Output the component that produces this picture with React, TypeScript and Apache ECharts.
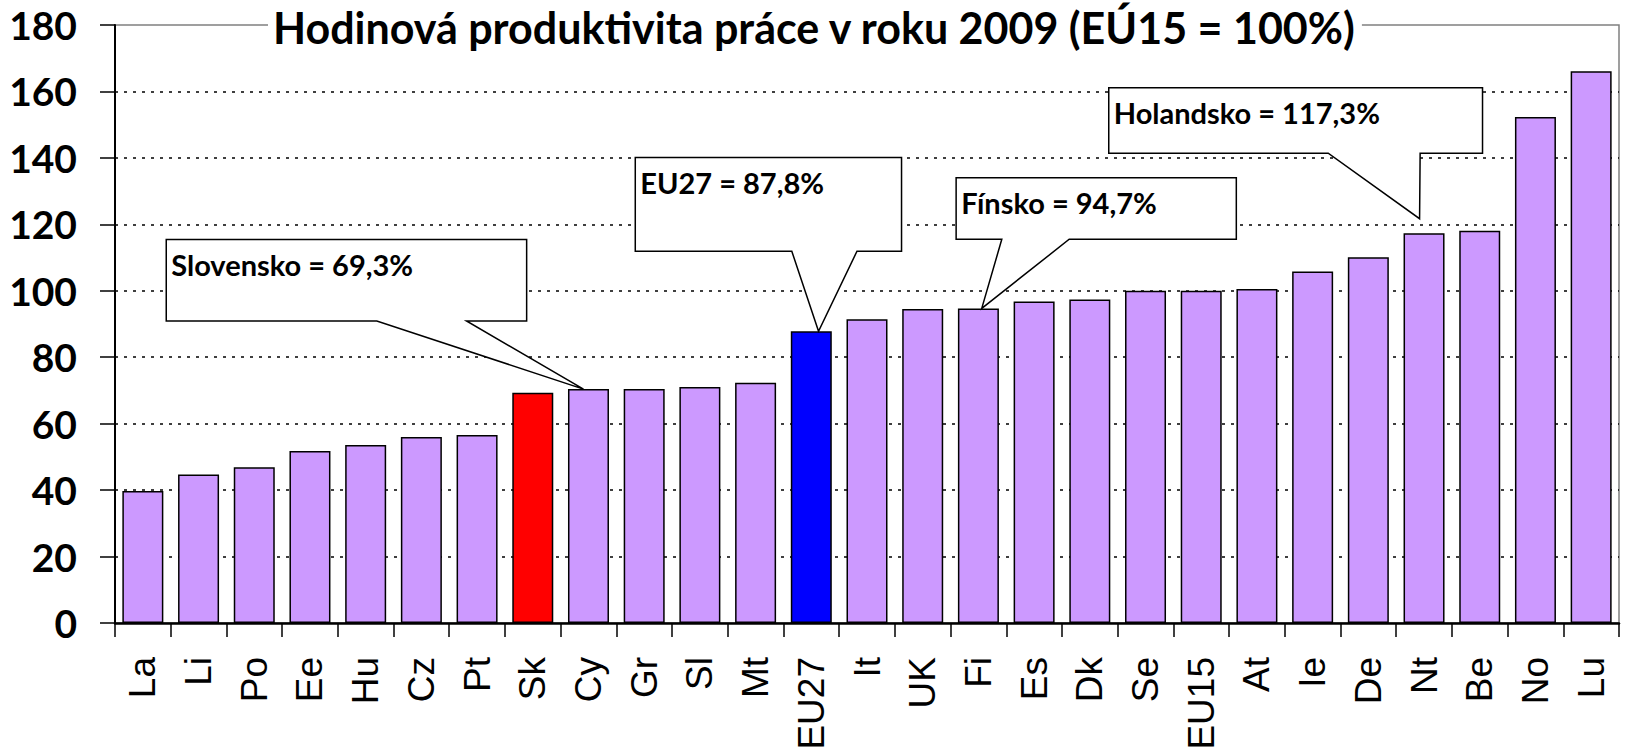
import React, { useEffect, useRef } from "react";
import * as echarts from "echarts";

// ---- data ----
const chartTitle = "Hodinová produktivita práce v roku 2009 (EÚ15 = 100%)";
const categories = [
  "La", "Li", "Po", "Ee", "Hu", "Cz", "Pt", "Sk", "Cy", "Gr", "Sl", "Mt", "EU27",
  "It", "UK", "Fi", "Es", "Dk", "Se", "EU15", "At", "Ie", "De", "Nt", "Be", "No", "Lu",
];
const values = [
  39.7, 44.7, 46.9, 51.8, 53.6, 56.0, 56.6, 69.3, 70.4, 70.4, 71.0, 72.3, 87.8,
  91.4, 94.5, 94.7, 96.8, 97.4, 100.0, 100.0, 100.5, 105.8, 110.1, 117.3, 118.1, 152.3, 166.1,
];
const highlightCats = ["Sk", "EU27"];
const yTicks = { min: 0, max: 180, interval: 20 };
const calloutTexts = ["Slovensko = 69,3%", "EU27 = 87,8%", "Fínsko = 94,7%", "Holandsko = 117,3%"];
const calloutTargets = ["Cy", "EU27", "Fi", "Nt"];

// ---- layout of callouts (category units / value units) ----
const calloutLayout = [
  { box: [0.42, 6.89, 115.4, 90.9], base: [4.2, 5.81], tipDx: -0.09, tipDy: 0 },
  { box: [8.84, 13.62, 140.1, 111.9], base: [11.65, 12.82], tipDx: 0.13, tipDy: 0 },
  { box: [14.6, 19.63, 134.0, 115.5], base: [15.42, 16.63], tipDx: 0.06, tipDy: 0 },
  { box: [17.34, 24.05, 161.1, 141.4], base: [21.28, 22.93], tipDx: -0.08, tipDy: 4.4 },
];

const BAR = "#CC99FF";
const highlightColors: Record<string, string> = { Sk: "#FF0000", EU27: "#0000FF" };

export default function App() {
  const ref = useRef<HTMLDivElement>(null);
  useEffect(() => {
    if (!ref.current) return;
    const chart = echarts.init(ref.current, null, { renderer: "svg" });
    const option: any = {
      animation: false,
      backgroundColor: "#fff",
      title: {
        text: chartTitle,
        left: 268,
        top: 5,
        padding: [0, 5],
        backgroundColor: "#fff",
        textStyle: {
          fontFamily: "Lato",
          fontWeight: "bold",
          fontSize: 43,
          lineHeight: 44,
          color: "#000",
        },
        z: 10,
      },
      grid: {
        left: 115,
        right: 9,
        top: 25,
        bottom: 131,
        show: true,
        borderColor: "#808080",
        borderWidth: 1.5,
        backgroundColor: "transparent",
      },
      xAxis: {
        type: "category",
        data: categories,
        axisLine: { lineStyle: { color: "#000", width: 2.5 } },
        axisTick: { show: true, length: 14, lineStyle: { color: "#000", width: 1.5 } },
        axisLabel: {
          rotate: 90,
          margin: 34,
          fontFamily: "Liberation Sans",
          fontSize: 37,
          color: "#000",
          interval: 0,
        },
        splitLine: { show: false },
      },
      yAxis: {
        type: "value",
        min: yTicks.min,
        max: yTicks.max,
        interval: yTicks.interval,
        axisLine: { show: true, lineStyle: { color: "#000", width: 2 } },
        axisTick: { show: true, length: 15, lineStyle: { color: "#000", width: 1.5 } },
        axisLabel: {
          margin: 38,
          fontFamily: "Lato",
          fontWeight: "bold",
          fontSize: 39,
          color: "#000",
        },
        splitLine: {
          show: true,
          showMinLine: false,
          showMaxLine: false,
          lineStyle: { color: "#000", width: 1.5, type: [3, 6] },
        },
      },
      series: [
        {
          type: "bar",
          barWidth: 41,
          data: categories.map((c, i) => ({
            value: values[i],
            itemStyle: {
              color: highlightCats.includes(c) ? highlightColors[c] : BAR,
            },
          })),
          itemStyle: { borderColor: "#000", borderWidth: 1.5 },
        },
      ],
    };
    chart.setOption(option);

    const px = (ci: number, v: number): [number, number] => {
      const a = chart.convertToPixel({ gridIndex: 0 }, [0, v]) as number[];
      const b = chart.convertToPixel({ gridIndex: 0 }, [1, v]) as number[];
      const band = b[0] - a[0];
      return [a[0] + ci * band, a[1]];
    };

    const graphics: any[] = [];
    calloutLayout.forEach((L, k) => {
      const idx = categories.indexOf(calloutTargets[k]);
      const [x0, x1, yTop, yBot] = L.box;
      const tl = px(x0, yTop);
      const tr = px(x1, yTop);
      const br = px(x1, yBot);
      const b2 = px(L.base[1], yBot);
      const tip = px(idx + L.tipDx, values[idx] + L.tipDy);
      const b1 = px(L.base[0], yBot);
      const bl = px(x0, yBot);
      graphics.push({
        type: "polygon",
        z: 20,
        shape: { points: [tl, tr, br, b2, tip, b1, bl] },
        style: { fill: "#fff", stroke: "#000", lineWidth: 1.5 },
      });
      graphics.push({
        type: "text",
        z: 21,
        x: tl[0] + 5,
        y: tl[1] + 25,
        style: {
          text: calloutTexts[k],
          fontFamily: "Lato",
          fontWeight: "bold",
          fontSize: 29,
          fill: "#000",
          verticalAlign: "middle",
          align: "left",
        },
      });
    });
    chart.setOption({ graphic: graphics });

    return () => chart.dispose();
  }, []);
  return (
    <div
      ref={ref}
      style={{ position: "absolute", left: 0, top: 0, width: 1628, height: 754 }}
    />
  );
}
